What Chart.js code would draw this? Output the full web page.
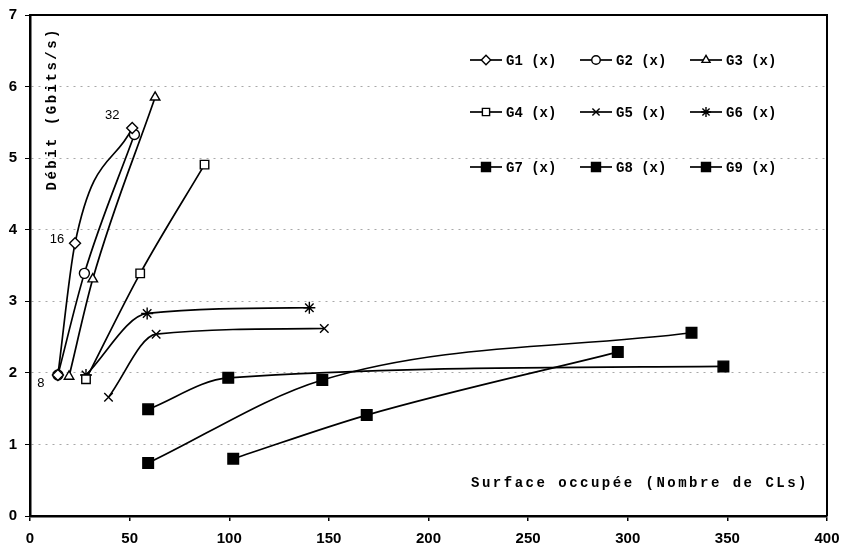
<!DOCTYPE html>
<html>
<head>
<meta charset="utf-8">
<script src="https://cdn.jsdelivr.net/npm/chart.js@4.4.1/dist/chart.umd.min.js"></script>
<style>
  html, body { margin: 0; padding: 0; background: #ffffff; }
  #wrap { width: 845px; height: 550px; position: relative; }
</style>
</head>
<body>
<div id="wrap"><canvas id="c" width="845" height="550"></canvas></div>
<script>
// ---- data ----
const seriesNames = ['G1 (x)', 'G2 (x)', 'G3 (x)', 'G4 (x)', 'G5 (x)', 'G6 (x)', 'G7 (x)', 'G8 (x)', 'G9 (x)'];

const g1x = [14, 22.6, 51.3];    const g1y = [1.97, 3.81, 5.42];
const g2x = [14, 27.3, 52.4];    const g2y = [1.97, 3.39, 5.33];
const g3x = [19.6, 31.5, 62.8];  const g3y = [1.95, 3.31, 5.85];
const g4x = [28.1, 55.3, 87.6];  const g4y = [1.91, 3.39, 4.91];
const g5x = [39.4, 63.3, 147.7]; const g5y = [1.66, 2.54, 2.62];
const g6x = [28.1, 58.8, 140.2]; const g6y = [1.97, 2.83, 2.91];
const g7x = [59.3, 99.5, 348];   const g7y = [1.49, 1.93, 2.09];
const g8x = [59.3, 146.7, 332];  const g8y = [0.74, 1.90, 2.56];
const g9x = [102, 169, 295];     const g9y = [0.80, 1.41, 2.29];

const g1PointLabels = ['8', '16', '32'];

const xTicks = [0, 50, 100, 150, 200, 250, 300, 350, 400];
const yTicks = [0, 1, 2, 3, 4, 5, 6, 7];

const xTitle = 'Surface occupée (Nombre de CLs)';
const yTitle = 'Débit (Gbits/s)';

// ---- styling ----
const xs = [g1x, g2x, g3x, g4x, g5x, g6x, g7x, g8x, g9x];
const ys = [g1y, g2y, g3y, g4y, g5y, g6y, g7y, g8y, g9y];
const styles = ['rectRot', 'circle', 'triangle', 'rect', 'crossRot', 'star', 'rect', 'rect', 'rect'];
const filled = [false, false, false, false, false, false, true, true, true];
const radii = [5.5, 5, 5.5, 6, 6, 6, 7.5, 7.5, 7.5];

const datasets = xs.map((xa, i) => ({
  label: seriesNames[i],
  data: xa.map((v, k) => ({ x: v, y: ys[i][k] })),
  borderColor: '#000',
  borderWidth: 1.7,
  backgroundColor: filled[i] ? '#000' : '#fff',
  pointStyle: styles[i],
  pointRadius: radii[i],
  pointBorderWidth: 1.4,
  pointBorderColor: '#000',
  pointBackgroundColor: filled[i] ? '#000' : '#fff',
  cubicInterpolationMode: 'monotone',
  showLine: true,
  fill: false
}));

const monoBold = 'bold 14px "Liberation Mono", "DejaVu Sans Mono", monospace';

function drawMarker(ctx, i, x, y) {
  ctx.save();
  ctx.strokeStyle = '#000';
  ctx.fillStyle = filled[i] ? '#000' : '#fff';
  ctx.lineWidth = 1.4;
  if (Chart.helpers && Chart.helpers.drawPoint) {
    Chart.helpers.drawPoint(ctx, { pointStyle: styles[i], radius: radii[i] * 0.85, rotation: 0, borderWidth: 1.4 }, x, y);
  } else {
    ctx.fillRect(x - 4, y - 4, 8, 8); ctx.strokeRect(x - 4, y - 4, 8, 8);
  }
  ctx.restore();
}

const extras = {
  id: 'extras',
  beforeDatasetsDraw(chart) {
    const { ctx, chartArea: a } = chart;
    ctx.save();
    ctx.strokeStyle = '#000';
    ctx.lineWidth = 2;
    ctx.beginPath();
    ctx.moveTo(a.left, a.top); ctx.lineTo(a.right, a.top); ctx.lineTo(a.right, a.bottom);
    ctx.stroke();
    ctx.restore();
  },
  afterDraw(chart) {
    const { ctx, chartArea: a } = chart;
    ctx.save();
    // axis titles
    ctx.fillStyle = '#000';
    ctx.font = monoBold;
    try { ctx.letterSpacing = '2.5px'; } catch (e) {}
    ctx.textAlign = 'right';
    ctx.textBaseline = 'middle';
    ctx.fillText(xTitle, a.right - 18, a.bottom - 33);
    ctx.save();
    ctx.translate(a.left + 22, a.top + 12);
    ctx.rotate(-Math.PI / 2);
    ctx.textAlign = 'right';
    ctx.fillText(yTitle, 0, 0);
    ctx.restore();
    try { ctx.letterSpacing = '0px'; } catch (e) {}

    // legend (3 x 3 grid)
    const colW = 110;
    const rowYs = [a.top + 45, a.top + 97, a.top + 152];
    ctx.font = monoBold;
    ctx.textAlign = 'left';
    ctx.textBaseline = 'middle';
    seriesNames.forEach((name, i) => {
      const col = i % 3, row = Math.floor(i / 3);
      const x0 = a.left + 440 + col * colW;
      const y0 = rowYs[row];
      ctx.strokeStyle = '#000';
      ctx.lineWidth = 1.7;
      ctx.beginPath(); ctx.moveTo(x0, y0); ctx.lineTo(x0 + 32, y0); ctx.stroke();
      drawMarker(ctx, i, x0 + 16, y0);
      ctx.fillStyle = '#000';
      ctx.fillText(name, x0 + 36, y0 + 1);
    });

    // point labels on G1
    const meta = chart.getDatasetMeta(0);
    const offs = [[-17, 8], [-18, -4], [-20, -13]];
    ctx.font = '13px "Liberation Sans", Arial, sans-serif';
    ctx.textAlign = 'center';
    ctx.textBaseline = 'middle';
    meta.data.forEach((el, k) => {
      ctx.fillText(g1PointLabels[k], el.x + offs[k][0], el.y + offs[k][1]);
    });
    ctx.restore();
  }
};

new Chart(document.getElementById('c'), {
  type: 'scatter',
  data: { datasets },
  options: {
    responsive: false,
    animation: false,
    layout: { padding: { top: 15, right: 18, left: 0, bottom: 0 } },
    plugins: { legend: { display: false }, tooltip: { enabled: false } },
    scales: {
      x: {
        type: 'linear',
        min: 0, max: 400,
        afterBuildTicks: s => { s.ticks = xTicks.map(v => ({ value: v })); },
        afterFit: s => { s.height = 34; s.paddingLeft = 0; s.paddingRight = 0; },
        grid: { display: true, drawOnChartArea: false, drawTicks: true, tickLength: 5, color: '#000', lineWidth: 1.5 },
        border: { color: '#000', width: 2.5 },
        ticks: { color: '#000', padding: 9, maxRotation: 0, font: { family: '"Liberation Sans", Arial, sans-serif', size: 15, weight: 'bold' } }
      },
      y: {
        type: 'linear',
        min: 0, max: 7,
        afterBuildTicks: s => { s.ticks = yTicks.map(v => ({ value: v })); },
        afterFit: s => { s.width = 30; s.paddingTop = 0; s.paddingBottom = 0; },
        grid: {
          display: true, drawTicks: true, tickLength: 5, lineWidth: 1,
          color: ctx => (ctx.tick && (ctx.tick.value === 0 || ctx.tick.value === 7)) ? 'rgba(0,0,0,0)' : '#a8a8a8',
          tickColor: '#000'
        },
        border: { color: '#000', width: 2.5, dash: [2, 5] },
        ticks: { color: '#000', padding: 8, font: { family: '"Liberation Sans", Arial, sans-serif', size: 15, weight: 'bold' } }
      }
    }
  },
  plugins: [extras]
});
</script>
</body>
</html>
